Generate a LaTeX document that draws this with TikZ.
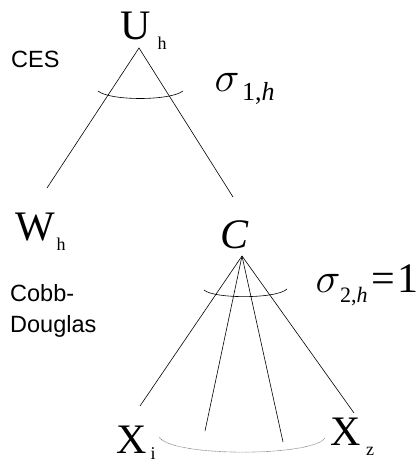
\RequirePackage{fix-cm}
\documentclass[tikz,border=0pt]{standalone}
\usepackage{fontspec}
\setmainfont{Liberation Serif}
\newfontfamily\labelfont{Liberation Sans}
\usetikzlibrary{positioning}

\begin{document}
\begin{tikzpicture}[x=1pt,y=-1pt,
  every node/.style={inner sep=0pt},
  big/.style={font=\fontsize{42}{46}\selectfont,anchor=base},
  sub/.style={font=\fontsize{18}{20}\selectfont,anchor=base},
  sig/.style={font=\fontsize{42}{46}\selectfont,anchor=base},
  sigsub/.style={font=\fontsize{#1}{26}\selectfont,anchor=base west},
  tag/.style={font=\labelfont\fontsize{23.5}{31}\selectfont,anchor=base west,align=left},
  branch/.style={black,line width=0.6pt},
  elast/.style={black,line width=0.6pt},
  dotarc/.style={black!60,line width=0.6pt,dash pattern=on 0.5pt off 0.6pt}]
  \useasboundingbox (0,0) rectangle (419,462);
  % niveau 1
  \node[big] (U) at (136,40) {U};
  \node[sub] (Uh) at (162,50) {h};
  \node[big] (W) at (35,240) {W};
  \node[sub] (Wh) at (61,250) {h};
  \node[big,font=\fontsize{42}{46}\selectfont\itshape] (C) at (235,248) {C};
  % niveau 2
  \node[big] (Xi) at (132,453) {X};
  \node[sub] (Xii) at (153,459) {i};
  \node[big] (Xz) at (346,445) {X};
  \node[sub] (Xzz) at (370,455) {z};
  % elasticites
  \node[sig] (s1) at (227,92) {$\sigma$};
  \node[sigsub=26] (s1sub) at (242,101) {1,\textit{h}};
  \node[sig] (s2) at (328,292) {$\sigma$};
  \node[sigsub=22] (s2sub) at (340,302) {2,\textit{h}};
  \node[big,anchor=base west] (eq) at (371,292) {=};
  \node[big] (one) at (408,292) {1};
  % fonctions
  \node[tag] (ces) at (11,68) {CES};
  \node[tag] (cd) at (10,332) {Cobb-\\Douglas};
  % branches
  \coordinate (uapex) at (139,48);
  \coordinate (wend) at (47,188);
  \coordinate (cend) at (233,197);
  \coordinate (capex) at (242,256);
  \coordinate (x1) at (140,406);
  \coordinate (x2) at (205,431);
  \coordinate (x3) at (283,442);
  \coordinate (x4) at (354,413);
  \draw[branch] (wend) -- (uapex) -- (cend);
  \foreach \e in {x1,x2,x3,x4} \draw[branch] (capex) -- (\e);
  % arcs
  \draw[elast] (98,91) .. controls (110,101) and (170,101) .. (183,91);
  \draw[elast] (204,290) .. controls (214,299) and (277,299) .. (287,289);
  \draw[dotarc] (159,437) .. controls (171,457) and (312,457) .. (325,438);
\end{tikzpicture}
\end{document}
